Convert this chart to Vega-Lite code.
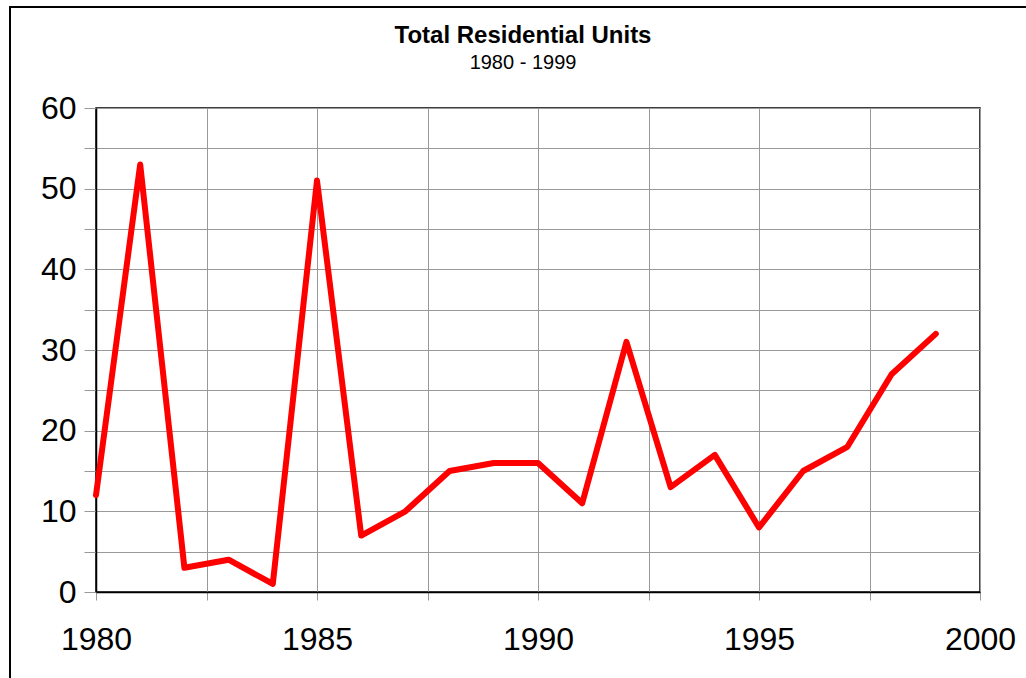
{
  "$schema": "https://vega.github.io/schema/vega-lite/v6.json",
  "width": 884,
  "height": 484,
  "autosize": {"type": "none"},
  "padding": {"left": 96, "top": 108, "right": 46, "bottom": 86},
  "background": "white",
  "title": {
    "text": "Total Residential Units",
    "subtitle": "1980 - 1999",
    "font": "Liberation Sans",
    "fontSize": 24,
    "fontWeight": "bold",
    "color": "black",
    "subtitleFont": "Liberation Sans",
    "subtitleFontSize": 20,
    "subtitleColor": "black",
    "subtitlePadding": 5,
    "anchor": "middle",
    "dx": -15,
    "offset": -67
  },
  "config": {
    "view": {"stroke": "black", "strokeWidth": 1.5},
    "axis": {
      "labelFont": "Liberation Sans",
      "labelFontSize": 32,
      "labelColor": "black",
      "gridColor": "#999999",
      "gridWidth": 1,
      "gridOpacity": 1,
      "tickColor": "#999999",
      "tickWidth": 1,
      "domainColor": "black",
      "domainWidth": 1.5,
      "title": null
    }
  },
  "data": {
    "values": [
      {"year": 1980, "units": 12},
      {"year": 1981, "units": 53},
      {"year": 1982, "units": 3},
      {"year": 1983, "units": 4},
      {"year": 1984, "units": 1},
      {"year": 1985, "units": 51},
      {"year": 1986, "units": 7},
      {"year": 1987, "units": 10},
      {"year": 1988, "units": 15},
      {"year": 1989, "units": 16},
      {"year": 1990, "units": 16},
      {"year": 1991, "units": 11},
      {"year": 1992, "units": 31},
      {"year": 1993, "units": 13},
      {"year": 1994, "units": 17},
      {"year": 1995, "units": 8},
      {"year": 1996, "units": 15},
      {"year": 1997, "units": 18},
      {"year": 1998, "units": 27},
      {"year": 1999, "units": 32}
    ]
  },
  "layer": [
    {
      "mark": {"type": "line", "color": "#ff0000", "strokeWidth": 6, "strokeJoin": "round", "strokeCap": "round"},
      "encoding": {
        "x": {
          "field": "year",
          "type": "quantitative",
          "scale": {"domain": [1980, 2000], "nice": false, "zero": false},
          "axis": {
            "values": [1980, 1982.5, 1985, 1987.5, 1990, 1992.5, 1995, 1997.5, 2000],
            "labelExpr": "datum.value % 5 === 0 ? format(datum.value, 'd') : ''",
            "tickSize": 8,
            "labelPadding": 24,
            "labelFlush": false,
            "labelOverlap": false
          }
        },
        "y": {
          "field": "units",
          "type": "quantitative",
          "scale": {"domain": [0, 60], "nice": false},
          "axis": {
            "values": [0, 5, 10, 15, 20, 25, 30, 35, 40, 45, 50, 55, 60],
            "labelExpr": "datum.value % 10 === 0 ? format(datum.value, 'd') : ''",
            "tickSize": 12,
            "labelPadding": 8,
            "labelFlush": false,
            "labelOverlap": false
          }
        }
      }
    },
    {
      "mark": {"type": "rect", "fill": null, "fillOpacity": 0, "stroke": "black", "strokeWidth": 1.5, "clip": false},
      "encoding": {
        "x": {"datum": 1978.05, "type": "quantitative"},
        "x2": {"datum": 2001.3},
        "y": {"datum": 72.5, "type": "quantitative"},
        "y2": {"datum": -13}
      }
    }
  ]
}
